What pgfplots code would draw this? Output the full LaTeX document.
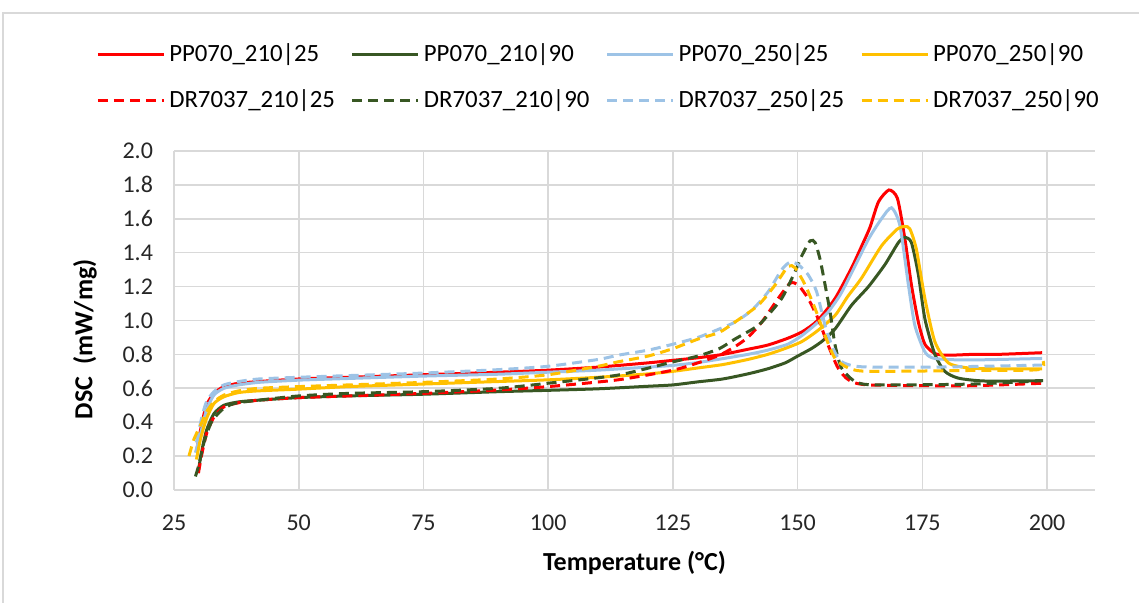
\documentclass[border=0pt]{standalone}
\usepackage{fontspec}
\setmainfont{Carlito}
\usepackage{pgfplots}
\pgfplotsset{compat=1.18}
\definecolor{ppred}{RGB}{255,0,0}
\definecolor{ppgreen}{RGB}{56,87,35}
\definecolor{ppblue}{RGB}{157,195,230}
\definecolor{ppyellow}{RGB}{255,192,0}
\definecolor{gridgray}{RGB}{217,217,217}

\begin{document}
\begin{tikzpicture}
\useasboundingbox (-87pt,-56.5pt) rectangle (482.5pt,245pt);
\draw[gridgray,line width=0.8pt] (-85.5pt,-57pt) -- (-85.5pt,238.5pt) -- (483pt,238.5pt);
\begin{axis}[at={(0,0)},anchor=south west,scale only axis,width=460.5pt,height=169.5pt,
xmin=25,xmax=209.6,ymin=0,ymax=2,
xtick={25,50,75,100,125,150,175,200},
ytick={0,0.2,0.4,0.6,0.8,1.0,1.2,1.4,1.6,1.8,2.0},
yticklabel style={/pgf/number format/fixed,/pgf/number format/fixed zerofill,/pgf/number format/precision=1,xshift=-7pt},
/pgf/number format/assume math mode=true,
tick label style={font=\fontsize{12}{14}\selectfont,text=black!85},
xticklabel style={yshift=-9pt},
axis line style={draw=none},tick style={draw=none},
grid=major,major grid style={gridgray,line width=0.8pt},
xlabel={\textbf{Temperature (°C)}},
ylabel={\textbf{DSC\ \ (mW/mg)}},
label style={font=\fontsize{13}{15}\selectfont},
xlabel style={at={(axis description cs:0.5,-0.215)},anchor=center},
ylabel style={at={(axis description cs:-0.0966,0.445)},anchor=center},
legend columns=4,
legend image code/.code={\draw[#1] (0pt,0pt) -- (33pt,0pt);},
legend style={draw=none,fill=none,at={(axis description cs:0.462,1.218)},anchor=center,
  font=\fontsize{12.4}{14}\selectfont,cells={anchor=west},row sep=8.5pt,
  /tikz/every even column/.append style={column sep=6pt}},
every axis plot/.append style={line width=1.5pt,smooth,tension=0.4},
sol/.style={solid},
dsh/.style={dash pattern=on 5pt off 3pt}]

% PP070 solid
\addplot[ppred,sol] coordinates {(29.6,0.24) (30.5,0.38) (31.5,0.50) (33,0.57) (35,0.61) (38,0.63) (42,0.64) (50,0.655) (60,0.665) (75,0.68) (90,0.695) (100,0.707) (110,0.725) (120,0.75) (125,0.765) (130,0.78) (135,0.80) (140,0.83) (144,0.855) (148,0.895) (151,0.935) (154,1.0) (157.5,1.13) (160.8,1.31) (163,1.45) (164.5,1.55) (166.2,1.70) (168.3,1.77) (170,1.72) (171.5,1.48) (172.8,1.21) (174.2,0.99) (175.5,0.86) (177.5,0.805) (180,0.795) (185,0.80) (190,0.80) (199,0.81)};
\addlegendentry{PP070\_210|25}
\addplot[ppgreen,sol] coordinates {(29.8,0.10) (30.5,0.22) (31.5,0.35) (33,0.45) (35,0.50) (38,0.52) (42,0.53) (50,0.545) (60,0.555) (75,0.565) (90,0.58) (100,0.588) (110,0.597) (120,0.612) (125,0.62) (130,0.638) (135,0.655) (140,0.685) (144,0.715) (147.5,0.75) (150,0.79) (152.8,0.835) (155,0.88) (157.5,0.95) (160.8,1.09) (164.2,1.20) (167.5,1.33) (170.2,1.46) (171.5,1.49) (172.8,1.46) (174.2,1.27) (175.5,1.01) (177.5,0.80) (179.5,0.70) (182.2,0.66) (187.5,0.643) (199,0.645)};
\addlegendentry{PP070\_210|90}
\addplot[ppblue,sol] coordinates {(29.3,0.22) (30.3,0.33) (31.5,0.47) (33,0.56) (35,0.60) (38,0.62) (42,0.635) (50,0.648) (60,0.658) (75,0.672) (90,0.683) (100,0.695) (110,0.707) (120,0.725) (125,0.735) (130,0.752) (135,0.775) (140,0.80) (144,0.825) (148,0.86) (150.8,0.91) (153.5,0.975) (156.1,1.05) (158.5,1.15) (160.8,1.28) (164.2,1.48) (166.8,1.60) (168.8,1.665) (170.5,1.56) (172.2,1.21) (173.5,0.97) (175.5,0.815) (177.5,0.776) (184.2,0.767) (199,0.776)};
\addlegendentry{PP070\_250|25}
\addplot[ppyellow,sol] coordinates {(29.5,0.18) (30.3,0.30) (31.5,0.42) (33,0.51) (35,0.55) (38,0.575) (42,0.585) (50,0.595) (60,0.61) (75,0.625) (90,0.64) (100,0.65) (110,0.665) (120,0.685) (125,0.70) (130,0.72) (135,0.74) (140,0.77) (144,0.80) (147.5,0.835) (150.8,0.875) (154,0.94) (157.5,1.03) (160,1.14) (162.8,1.25) (166.8,1.44) (170,1.54) (171.5,1.555) (172.5,1.54) (173.8,1.42) (175.5,1.13) (177.5,0.875) (180.2,0.75) (184.2,0.72) (190,0.715) (199,0.715)};
\addlegendentry{PP070\_250|90}

% DR7037 dashed
\addplot[ppred,dsh] coordinates {(29.9,0.10) (30.5,0.20) (31.5,0.33) (33,0.43) (35,0.49) (38,0.515) (42,0.53) (50,0.545) (60,0.555) (75,0.57) (90,0.59) (100,0.61) (114,0.65) (125,0.707) (130,0.75) (134.3,0.795) (137.4,0.845) (140,0.90) (142.8,0.99) (146.1,1.13) (148.5,1.22) (150.1,1.21) (152.1,1.13) (154.1,1.01) (156.1,0.855) (158.1,0.72) (160.2,0.65) (164.2,0.62) (184.2,0.615) (199.2,0.63)};
\addlegendentry{DR7037\_210|25}
\addplot[ppgreen,dsh] coordinates {(29.3,0.08) (30,0.15) (31,0.28) (32.5,0.40) (34.5,0.47) (37,0.51) (42,0.53) (50,0.555) (60,0.57) (75,0.58) (90,0.60) (100,0.63) (114,0.678) (125,0.756) (130,0.79) (134.3,0.834) (137.4,0.89) (141,0.95) (142.8,0.99) (146.8,1.13) (149.5,1.29) (150.8,1.38) (152.5,1.47) (153.5,1.46) (154.5,1.36) (155.5,1.21) (156.5,1.05) (157.5,0.855) (158.8,0.72) (161.5,0.64) (165.5,0.62) (185,0.625) (199.2,0.645)};
\addlegendentry{DR7037\_210|90}
\addplot[ppblue,dsh] coordinates {(29.5,0.28) (30.5,0.42) (31.5,0.52) (33,0.58) (35,0.62) (38,0.64) (42,0.655) (50,0.665) (60,0.675) (75,0.69) (90,0.71) (100,0.73) (110,0.77) (114,0.795) (120,0.825) (125,0.86) (130,0.90) (134.3,0.95) (137.4,0.99) (140.8,1.06) (144.1,1.17) (146.8,1.30) (148.5,1.345) (150.1,1.33) (152.1,1.27) (153.8,1.17) (155.5,0.97) (157.1,0.835) (158.8,0.757) (162.8,0.727) (177.5,0.725) (199,0.737)};
\addlegendentry{DR7037\_250|25}
\addplot[ppyellow,dsh] coordinates {(28,0.20) (29,0.30) (30.3,0.38) (31.5,0.46) (33,0.52) (35,0.56) (38,0.585) (42,0.60) (50,0.61) (60,0.62) (75,0.635) (90,0.655) (100,0.68) (110,0.73) (114,0.756) (120,0.79) (125,0.834) (130,0.89) (134.3,0.93) (137.4,0.99) (142.1,1.09) (145.5,1.21) (148.1,1.32) (149.5,1.31) (151.5,1.21) (153.5,1.07) (155.5,0.91) (157.5,0.776) (160.2,0.72) (164.2,0.70) (184.2,0.705) (198.2,0.71) (199.2,0.76)};
\addlegendentry{DR7037\_250|90}
\end{axis}
\end{tikzpicture}
\end{document}
